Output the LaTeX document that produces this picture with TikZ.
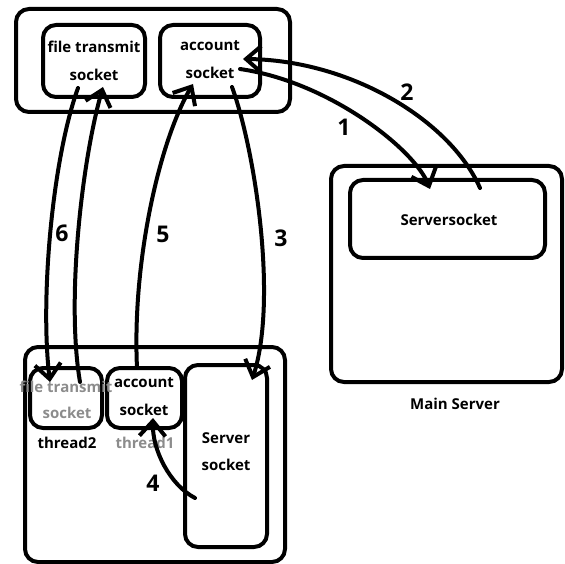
\documentclass[tikz,border=0pt]{standalone}
\usepackage{fontspec}
\setmainfont{Open Sans}
\usetikzlibrary{arrows.meta}
\definecolor{txtgray}{RGB}{140,140,140}
\tikzset{
  box/.style={draw, line width=4pt, rounded corners=13pt, inner sep=0pt},
  lbl/.style={font=\fontsize{15}{17}\selectfont\bfseries, inner sep=0pt, text=black},
  glbl/.style={lbl, text=txtgray},
  num/.style={font=\fontsize{23}{25}\selectfont\bfseries, inner sep=0pt},
  conn/.style={line width=4pt, line cap=round, -{Straight Barb[length=15pt,width=26pt,line width=4pt]}}
}
\begin{document}
\begin{tikzpicture}[x=1pt,y=-1pt]
\useasboundingbox (0,0) rectangle (565,564);
% top client
\node[box, minimum width=274pt, minimum height=103pt] (topouter) at (153,60.5) {};
\node[box, minimum width=102pt, minimum height=72pt] (topfile) at (94,61) {};
\node[box, minimum width=100pt, minimum height=72pt] (topacc) at (210,61) {};
\node[lbl] (tf1) at (94,47) {file transmit};
\node[lbl] (tf2) at (94,75) {socket};
\node[lbl] (ta1) at (210,46) {account};
\node[lbl] (ta2) at (210,73) {socket};
% main server
\node[box, minimum width=231pt, minimum height=216pt] (mainouter) at (446.5,274) {};
\node[box, minimum width=195pt, minimum height=78pt] (servsock) at (447.5,219) {};
\node[lbl] (ss) at (449,220) {Serversocket};
\node[lbl] (ms) at (455,404) {Main Server};
% bottom server
\node[box, minimum width=260pt, minimum height=215pt] (botouter) at (155,454.5) {};
\node[box, minimum width=72pt, minimum height=60pt] (botfile) at (66,398) {};
\node[box, minimum width=75pt, minimum height=60pt] (botacc) at (144.5,398) {};
\node[box, minimum width=82pt, minimum height=182pt] (botserv) at (226,456) {};
\node[glbl] (bf1) at (66,387) {file transmit};
\node[glbl] (bf2) at (67,413) {socket};
\node[lbl] (th2) at (67,443) {thread2};
\node[lbl] (ba1) at (144,383) {account};
\node[lbl] (ba2) at (144,410) {socket};
\node[glbl] (th1) at (145,443) {thread1};
\node[lbl] (bs1) at (226,438) {Server};
\node[lbl] (bs2) at (226,465) {socket};
% connector end points
\coordinate (p1s) at (240,69);
\coordinate (p1e) at (430,189);
\coordinate (p2s) at (480,188);
\coordinate (p2e) at (243,59);
\coordinate (p3s) at (232,87);
\coordinate (p3e) at (252,380);
\coordinate (p4s) at (195,498);
\coordinate (p4e) at (153,418);
\coordinate (p5s) at (137,368);
\coordinate (p5e) at (193,84);
\coordinate (p6as) at (78,88);
\coordinate (p6ae) at (50,382);
\coordinate (p6bs) at (80,382);
\coordinate (p6be) at (103,87);
% connectors
\draw[conn] (p1s) .. controls (330,82) and (415,150) .. (p1e);
\draw[conn] (p2s) .. controls (450,120) and (350,60) .. (p2e);
\draw[conn] (p3s) .. controls (255,150) and (278,300) .. (p3e);
\draw[conn] (p4s) .. controls (170,485) and (152,450) .. (p4e);
\draw[conn] (p5s) .. controls (132,260) and (160,140) .. (p5e);
\draw[conn] (p6as) .. controls (52,160) and (40,300) .. (p6ae);
\draw[conn] (p6bs) .. controls (66,300) and (82,160) .. (p6be);
% numbers
\node[num] (n1) at (344,127) {1};
\node[num] (n2) at (407,92) {2};
\node[num] (n3) at (281,238) {3};
\node[num] (n4) at (153,483) {4};
\node[num] (n5) at (163,234) {5};
\node[num] (n6) at (62,233) {6};
\end{tikzpicture}
\end{document}
